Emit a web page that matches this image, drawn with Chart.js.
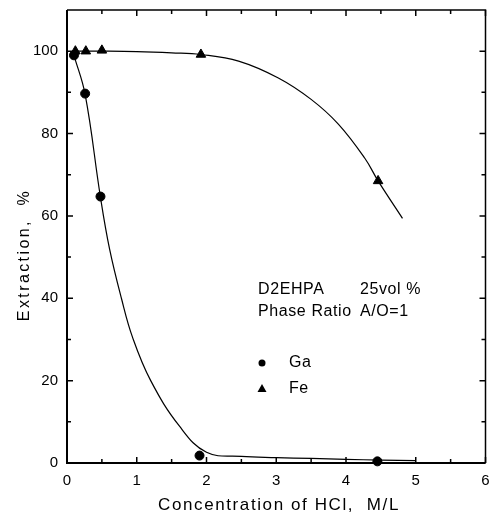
<!DOCTYPE html>
<html>
<head>
<meta charset="utf-8">
<script src="https://cdn.jsdelivr.net/npm/chart.js@4.4.1/dist/chart.umd.min.js"></script>
<style>
html,body{margin:0;padding:0;background:#fff;}
#c{display:block;}
</style>
</head>
<body>
<canvas id="c" width="492" height="516"></canvas>
<script>
// ---- data ----
const gaX = [0.1, 0.26, 0.48, 1.9, 4.45];
const gaY = [99.0, 89.7, 64.7, 1.8, 0.4];
const feX = [0.12, 0.27, 0.5, 1.92, 4.46];
const feY = [100.0, 100.0, 100.2, 99.2, 68.5];
// fitted curves (traced)
const gaCurveX = [0.1, 0.26, 0.48, 0.61, 0.78, 0.94, 1.2, 1.61, 2.0, 2.5, 3.0, 3.5, 4.0, 4.5, 5.0];
const gaCurveY = [99.0, 89.5, 64.5, 52.0, 40.0, 30.5, 20.0, 9.0, 2.6, 1.6, 1.3, 1.1, 0.9, 0.7, 0.6];
const feCurveX = [0.1, 0.5, 1.0, 1.5, 1.92, 2.46, 3.03, 3.5, 3.89, 4.27, 4.46, 4.81];
const feCurveY = [100.0, 100.0, 99.9, 99.6, 99.2, 97.6, 93.5, 88.3, 82.3, 74.0, 68.5, 59.4];
const xTickLabels = ['0', '1', '2', '3', '4', '5', '6'];
const yTickLabels = ['0', '20', '40', '60', '80', '100'];
const xTitle = 'Concentration of HCl,  M/L';
const yTitle = 'Extraction,  %';
const noteLine1 = ['D2EHPA', '25vol %'];
const noteLine2 = ['Phase Ratio', 'A/O=1'];
const seriesNames = ['Ga', 'Fe'];

const pts = (xs, ys) => xs.map((x, i) => ({x: x, y: ys[i]}));
const FONT = '"Liberation Sans", Arial, sans-serif';

const framePlugin = {
  id: 'frame',
  afterDraw(chart) {
    const ctx = chart.ctx;
    const a = chart.chartArea;
    const xs = chart.scales.x, ys = chart.scales.y;
    ctx.save();
    ctx.strokeStyle = '#000';
    // frame
    ctx.lineWidth = 1.5;
    ctx.beginPath();
    ctx.moveTo(a.left, a.top); ctx.lineTo(a.right, a.top); ctx.lineTo(a.right, a.bottom);
    ctx.stroke();
    ctx.lineWidth = 2;
    ctx.beginPath();
    ctx.moveTo(a.left, a.top); ctx.lineTo(a.left, a.bottom); ctx.lineTo(a.right, a.bottom);
    ctx.stroke();
    // inward ticks
    ctx.lineWidth = 1.5;
    xs.ticks.forEach(t => {
      const px = xs.getPixelForValue(t.value);
      const major = Math.abs(t.value - Math.round(t.value)) < 1e-6;
      const L = major ? 6 : 4;
      ctx.beginPath();
      ctx.moveTo(px, a.bottom); ctx.lineTo(px, a.bottom - L);
      ctx.moveTo(px, a.top); ctx.lineTo(px, a.top + L);
      ctx.stroke();
    });
    ys.ticks.forEach(t => {
      if (t.value > 100) return;
      const py = ys.getPixelForValue(t.value);
      const major = t.value % 20 === 0;
      const L = major ? 6 : 4;
      ctx.beginPath();
      ctx.moveTo(a.left, py); ctx.lineTo(a.left + L, py);
      ctx.moveTo(a.right, py); ctx.lineTo(a.right - L, py);
      ctx.stroke();
    });
    // axis titles
    ctx.fillStyle = '#000';
    ctx.textBaseline = 'middle';
    ctx.textAlign = 'center';
    ctx.font = '17px ' + FONT;
    ctx.letterSpacing = '1.6px';
    ctx.fillText(xTitle, 279, 505);
    ctx.save();
    ctx.translate(25, 255);
    ctx.rotate(-Math.PI / 2);
    ctx.font = '16px ' + FONT;
    ctx.letterSpacing = '2.4px';
    ctx.fillText(yTitle, 0, 0);
    ctx.restore();
    // annotations
    ctx.textAlign = 'left';
    ctx.font = '16px ' + FONT;
    ctx.letterSpacing = '0.6px';
    ctx.fillText(noteLine1[0], 258, 290);
    ctx.fillText(noteLine1[1], 360, 290);
    ctx.fillText(noteLine2[0], 258, 312);
    ctx.fillText(noteLine2[1], 360, 312);
    ctx.fillText(seriesNames[0], 289, 363);
    ctx.fillText(seriesNames[1], 289, 389);
    // legend markers
    ctx.beginPath();
    ctx.arc(262, 363, 3.5, 0, Math.PI * 2);
    ctx.fill();
    ctx.beginPath();
    ctx.moveTo(262, 384); ctx.lineTo(266.5, 392); ctx.lineTo(257.5, 392); ctx.closePath();
    ctx.fill();
    ctx.restore();
  }
};

new Chart(document.getElementById('c'), {
  type: 'scatter',
  data: {
    datasets: [
      {label: seriesNames[0] + ' fit', data: pts(gaCurveX, gaCurveY), showLine: true, borderColor: '#000', borderWidth: 1.2,
       pointRadius: 0, tension: 0.4, clip: false},
      {label: seriesNames[1] + ' fit', data: pts(feCurveX, feCurveY), showLine: true, borderColor: '#000', borderWidth: 1.2,
       pointRadius: 0, tension: 0.4, clip: false},
      {label: seriesNames[0], data: pts(gaX, gaY), pointStyle: 'circle', pointRadius: 4.5,
       backgroundColor: '#000', borderColor: '#000', borderWidth: 1, clip: false},
      {label: seriesNames[1], data: pts(feX, feY), pointStyle: 'triangle', pointRadius: 5.5,
       backgroundColor: '#000', borderColor: '#000', borderWidth: 1, clip: false}
    ]
  },
  options: {
    responsive: false,
    animation: false,
    devicePixelRatio: 1,
    layout: {padding: {left: 0, right: 4, top: 10, bottom: 0}},
    plugins: {legend: {display: false}, tooltip: {enabled: false}},
    scales: {
      x: {
        type: 'linear', min: 0, max: 6,
        grid: {display: false, drawTicks: false},
        border: {display: false},
        ticks: {
          stepSize: 0.5, autoSkip: false, padding: 9, color: '#000',
          font: {family: FONT, size: 15},
          callback: v => (Math.abs(v - Math.round(v)) < 1e-6 ? xTickLabels[Math.round(v)] : '')
        },
        afterFit: s => { s.height = 53; s.paddingLeft = 0; s.paddingRight = 0; }
      },
      y: {
        type: 'linear', min: 0, max: 110,
        grid: {display: false, drawTicks: false},
        border: {display: false},
        ticks: {
          stepSize: 10, autoSkip: false, padding: 9, color: '#000',
          font: {family: FONT, size: 15},
          callback: v => (v % 20 === 0 && v <= 100 ? yTickLabels[v / 20] : '')
        },
        afterFit: s => { s.width = 67; s.paddingTop = 0; s.paddingBottom = 0; }
      }
    }
  },
  plugins: [framePlugin]
});
</script>
</body>
</html>
